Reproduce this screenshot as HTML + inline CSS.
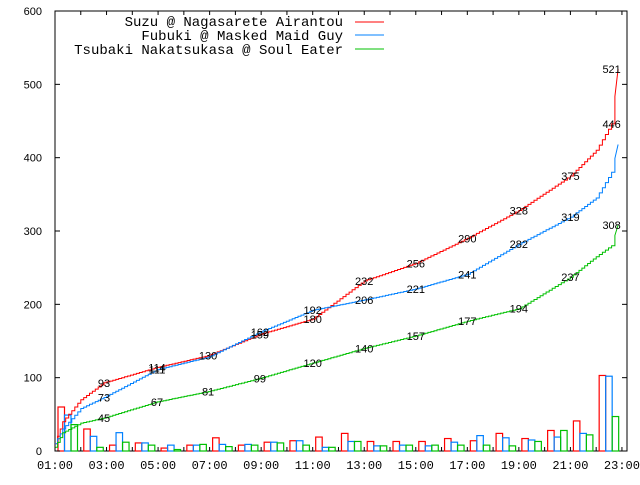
<!DOCTYPE html>
<html><head><meta charset="utf-8"><style>
body{margin:0;background:#fff}
svg text{font-family:"Liberation Mono",monospace;font-size:12px;fill:#000}
</style></head><body>
<svg id="chart" width="640" height="480" xmlns="http://www.w3.org/2000/svg">
<rect x="0" y="0" width="640" height="480" fill="#fff"/>
<g id="grid"></g>
<rect x="55" y="11" width="572" height="440" fill="none" stroke="#000" stroke-width="1"/>
<g id="bars"></g><g id="lines"></g><g id="labels"></g><g id="axes"></g>
<g>
<text x="343" y="26" text-anchor="end" style="font-size:14px">Suzu @ Nagasarete Airantou</text>
<line x1="355" y1="22" x2="384" y2="22" stroke="#ff0000"/>
<text x="343" y="40" text-anchor="end" style="font-size:14px">Fubuki @ Masked Maid Guy</text>
<line x1="355" y1="35" x2="384" y2="35" stroke="#0080ff"/>
<text x="343" y="54" text-anchor="end" style="font-size:14px">Tsubaki Nakatsukasa @ Soul Eater</text>
<line x1="355" y1="49" x2="384" y2="49" stroke="#00c000"/>
</g>
</svg>
<script>
const hourLabels=["01:00","03:00","05:00","07:00","09:00","11:00","13:00","15:00","17:00","19:00","21:00","23:00"];
const yTicks=[0,100,200,300,400,500,600];
const barRed=[60,30,8,11,4,8,18,8,12,14,19,24,13,13,13,17,14,24,17,28,41,103];
const barBlue=[49,20,25,11,8,8,9,9,12,14,5,13,7,8,7,12,21,18,15,19,24,102];
const barGreen=[36,5,12,8,2,9,6,8,11,8,5,13,7,8,8,8,8,7,13,28,22,47];
const cumTimes=[0,0.3,1,1.9,3.96,5.94,7.95,10,12,14,16,18,20,21,21.6,21.85];
const cumRed=[10,40,70,93,114,130,159,180,232,256,290,328,375,410,446,521];
const cumBlue=[10,30,58,73,111,128,162,192,206,221,241,282,319,345,380,418];
const cumGreen=[5,25,38,45,67,81,99,120,140,157,177,194,237,265,280,308];
const labelIdxRed=[3,4,5,6,7,8,9,10,11,12,14,15];
const labelIdxBlue=[3,4,6,7,8,9,10,11,12];
const labelIdxGreen=[3,4,5,6,7,8,9,10,11,12,15];
const NS="http://www.w3.org/2000/svg";
const X=h=>55+h*25.77, Y=v=>451-v*0.7333;
function mk(tag,attrs,parent){const e=document.createElementNS(NS,tag);for(const k in attrs)e.setAttribute(k,attrs[k]);document.getElementById(parent).appendChild(e);return e;}
const axes="axes";
yTicks.forEach(v=>{
 const t=mk("text",{x:42,y:Y(v)+4,"text-anchor":"end",style:"font-family:'Liberation Sans',sans-serif;font-size:11px"},axes);
 
 
 t.textContent=v;
 mk("line",{x1:55,y1:Y(v),x2:60,y2:Y(v),stroke:"#000"},axes);
 mk("line",{x1:627,y1:Y(v),x2:622,y2:Y(v),stroke:"#000"},axes);
});
for(let h=0;h<=22;h++){
 mk("line",{x1:X(h),y1:451,x2:X(h),y2:447,stroke:"#000"},axes);
 mk("line",{x1:X(h),y1:11,x2:X(h),y2:15,stroke:"#000"},axes);
}
hourLabels.forEach((s,i)=>{
 const t=mk("text",{x:X(i*2),y:469,"text-anchor":"middle"},axes);
 
 
 t.textContent=s;
});
[[barRed,"#ff0000"],[barBlue,"#0080ff"],[barGreen,"#00c000"]].forEach(([arr,c],s)=>{
 arr.forEach((v,i)=>{
  const x0=X(i)+3+s*6.5;
  const r=mk("rect",{x:x0,y:Y(v),width:6.5,height:451-Y(v),fill:"none",stroke:c,"stroke-width":1.2},"bars");
  
  
 });
});
[[cumRed,"#ff0000",labelIdxRed,"line-suzu"],[cumBlue,"#0080ff",labelIdxBlue,"line-fubuki"],[cumGreen,"#00c000",labelIdxGreen,"line-tsubaki"]].forEach(([arr,c,li,n])=>{
 let pts=[];
 for(let i=0;i<arr.length-1;i++){
  const steps=Math.max(2,Math.round((X(cumTimes[i+1])-X(cumTimes[i]))/3));
  for(let k=0;k<steps;k++){
   const f=k/steps;
   const xx=X(cumTimes[i])+(X(cumTimes[i+1])-X(cumTimes[i]))*f;
   const yy=Y(arr[i]+(arr[i+1]-arr[i])*f);
   if(pts.length){pts.push(xx.toFixed(1)+","+pts[pts.length-1].split(",")[1]);}
   pts.push(xx.toFixed(1)+","+yy.toFixed(1));
  }
 }
 pts.push(X(cumTimes[cumTimes.length-1]).toFixed(1)+","+Y(arr[arr.length-1]).toFixed(1));
 const p=mk("polyline",{points:pts.join(" "),fill:"none",stroke:c,"stroke-width":1},"lines");
 
 
 li.forEach(i=>{
  const t=mk("text",{x:X(Math.min(cumTimes[i],21.6)),y:Y(arr[i])+4,"text-anchor":"middle",style:"font-family:'Liberation Sans',sans-serif;font-size:11px"},"labels");
  
  
  t.textContent=arr[i];
 });
});
</script>
</body></html>
